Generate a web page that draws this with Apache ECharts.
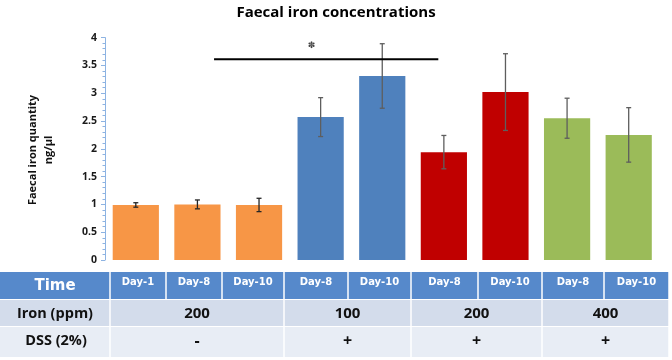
<!DOCTYPE html>
<html>
<head>
<meta charset="utf-8">
<script src="https://cdn.jsdelivr.net/npm/echarts@6/dist/echarts.min.js"></script>
<style>
  html, body { margin: 0; padding: 0; background: #fff; }
  #chart { width: 672px; height: 360px; }
</style>
</head>
<body>
<div id="chart"></div>
<script>
// data
const timeLabels = ['Day-1', 'Day-8', 'Day-10', 'Day-8', 'Day-10', 'Day-8', 'Day-10', 'Day-8', 'Day-10'];
const ironValues = [0.99, 1.0, 0.99, 2.57, 3.31, 1.94, 3.02, 2.55, 2.25];
const ironErrors = [0.04, 0.08, 0.12, 0.35, 0.58, 0.30, 0.69, 0.36, 0.49];
const barGroup = [0, 0, 0, 1, 1, 2, 2, 3, 3];
const groupIron = ['200', '100', '200', '400'];
const groupDss = ['-', '+', '+', '+'];
const groupColors = ['#F79646', '#4F81BD', '#C00000', '#9BBB59'];
const sigFrom = 1.27, sigTo = 4.91, sigLevel = 3.61;
const sigMark = { x: 2.85, y: 3.85, text: '\u273D' };

const chart = echarts.init(document.getElementById('chart'));
const FONT = 'Open Sans';

// table layout (pixels)
const colEdges = [0, 110, 166, 222, 284, 348, 411, 478, 542, 604, 669];
const rowTop = [272, 300, 327];
const rowH = [27, 26, 30];
const headBlue = '#5689CB', row2 = '#D3DCEB', row3 = '#E8EDF5';
const gap = 1.5;

const table = [];
function cell(x0, x1, y, h, fill) {
  table.push({ type: 'rect', shape: { x: x0 + gap / 2, y: y, width: x1 - x0 - gap, height: h }, style: { fill: fill } });
}
function label(x, y, text, font, size, color) {
  table.push({
    type: 'text', x: x, y: y,
    style: { text: text, fontFamily: font, fontWeight: 'bold', fontSize: size, fill: color, align: 'center', verticalAlign: 'middle' }
  });
}
// header row
cell(-2, colEdges[1], rowTop[0], rowH[0], headBlue);
label(55, rowTop[0] + 14, 'Time', 'DejaVu Sans', 15, '#fff');
timeLabels.forEach((t, i) => {
  cell(colEdges[i + 1], colEdges[i + 2], rowTop[0], rowH[0], headBlue);
  label((colEdges[i + 1] + colEdges[i + 2]) / 2, rowTop[0] + 10, t, 'DejaVu Sans', 10, '#fff');
});
// group rows
cell(-2, colEdges[1], rowTop[1], rowH[1], row2);
cell(-2, colEdges[1], rowTop[2], rowH[2], row3);
label(55, rowTop[1] + 14, 'Iron (ppm)', FONT, 14.5, '#111');
label(56, rowTop[2] + 14, 'DSS (2%)', FONT, 14.5, '#111');
groupIron.forEach((g, gi) => {
  const idx = barGroup.map((b, i) => b === gi ? i : -1).filter(i => i >= 0);
  const x0 = colEdges[idx[0] + 1], x1 = colEdges[idx[idx.length - 1] + 2];
  cell(x0, x1, rowTop[1], rowH[1], row2);
  cell(x0, x1, rowTop[2], rowH[2], row3);
  label((x0 + x1) / 2, rowTop[1] + 14, g, FONT, 15, '#111');
  label((x0 + x1) / 2, rowTop[2] + 14, groupDss[gi], FONT, 16, '#111');
});

chart.setOption({
  animation: false,
  title: {
    text: 'Faecal iron concentrations',
    left: 'center',
    top: 0,
    textStyle: { fontFamily: FONT, fontWeight: 'bold', fontSize: 15, color: '#000' }
  },
  grid: { left: 105, right: 12.5, top: 37.6, bottom: 100 },
  xAxis: [
    { type: 'category', data: timeLabels, axisLine: { show: false }, axisTick: { show: false }, axisLabel: { show: false } },
    { type: 'value', min: -0.5, max: 8.5, show: false }
  ],
  yAxis: {
    type: 'value', min: 0, max: 4, interval: 0.5,
    axisLine: { show: true, onZero: false, lineStyle: { color: '#8DB3E2', width: 1 } },
    axisTick: { show: true, length: 4, lineStyle: { color: '#8DB3E2' } },
    minorTick: { show: true, splitNumber: 5, length: 2.5, lineStyle: { color: '#8DB3E2' } },
    splitLine: { show: false },
    axisLabel: { margin: 8, fontFamily: FONT, fontWeight: 'bold', fontSize: 10.5, color: '#1a1a1a' }
  },
  graphic: [
    {
      type: 'text', x: 41, y: 150, rotation: Math.PI / 2,
      style: {
        text: 'Faecal iron quantity\nng/\u00b5l', fontFamily: FONT, fontWeight: 'bold', fontSize: 11,
        lineHeight: 16, fill: '#111', align: 'center', verticalAlign: 'middle'
      }
    }
  ].concat(table),
  series: [
    {
      type: 'bar',
      barCategoryGap: '25%',
      data: ironValues.map((v, i) => ({ value: v, itemStyle: { color: groupColors[barGroup[i]] } }))
    },
    {
      type: 'custom',
      data: ironValues.map((v, i) => [i, v - ironErrors[i], v + ironErrors[i]]),
      encode: { x: 0, y: [1, 2] },
      z: 5,
      renderItem: function (params, api) {
        const i = api.value(0);
        const top = api.coord([i, api.value(2)]);
        const bot = api.coord([i, api.value(1)]);
        const c = barGroup[i] === 0 ? '#262626' : '#5e5e5e';
        const w = 2.5;
        const st = { stroke: c, lineWidth: 1.3 };
        return {
          type: 'group', children: [
            { type: 'line', shape: { x1: top[0], y1: top[1], x2: bot[0], y2: bot[1] }, style: st },
            { type: 'line', shape: { x1: top[0] - w, y1: top[1], x2: top[0] + w, y2: top[1] }, style: st },
            { type: 'line', shape: { x1: bot[0] - w, y1: bot[1], x2: bot[0] + w, y2: bot[1] }, style: st }
          ]
        };
      }
    },
    {
      type: 'line',
      xAxisIndex: 1,
      data: [[sigFrom, sigLevel], [sigTo, sigLevel]],
      symbol: 'none',
      z: 6,
      lineStyle: { color: '#000', width: 2 }
    },
    {
      type: 'custom',
      xAxisIndex: 1,
      data: [[sigMark.x, sigMark.y]],
      renderItem: function (params, api) {
        const p = api.coord([api.value(0), api.value(1)]);
        return {
          type: 'text', x: p[0], y: p[1],
          style: { text: sigMark.text, fontFamily: 'DejaVu Sans', fontSize: 9, fill: '#444', align: 'center', verticalAlign: 'middle' }
        };
      }
    }
  ]
});
</script>
</body>
</html>
